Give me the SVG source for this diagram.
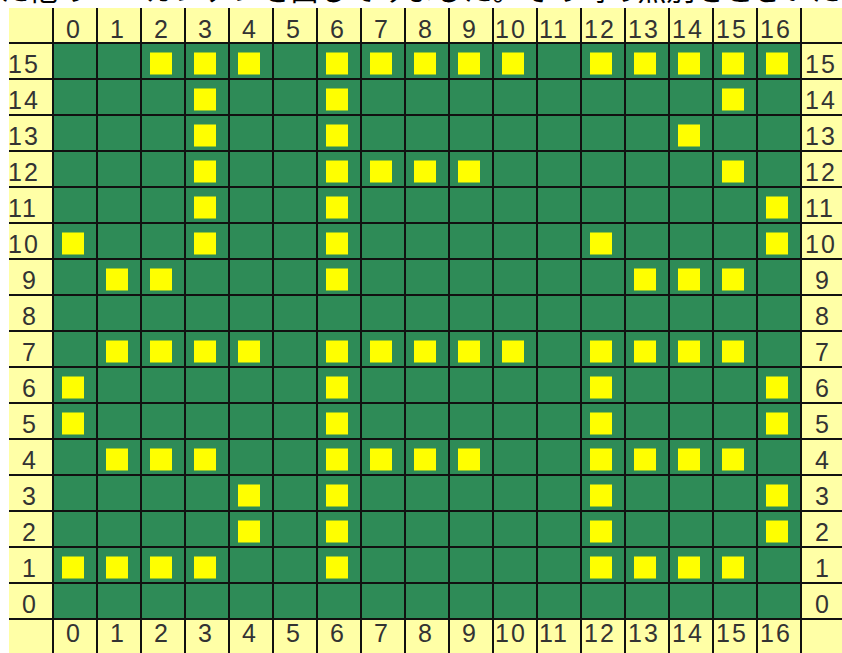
<svg xmlns="http://www.w3.org/2000/svg" width="842" height="653" viewBox="0 0 842 653">
<style>
.bg{fill:#FFFFA6}
.field{fill:#2E8B57}
.m{fill:#FFFF00}
.ln{stroke:#111;stroke-width:2;fill:none}
.t{font-family:"Liberation Sans",Arial,sans-serif;font-size:25px;fill:#333;letter-spacing:2px}
.top{font-family:"Noto Sans CJK JP","Noto Sans CJK SC",sans-serif;font-size:29px;fill:#000}
</style>
<rect width="842" height="653" fill="#ffffff"/>
<text class="top" x="0" y="1">た他のエーカンテシを出してみました。その時の無別をとさいた</text>
<g id="board">
<rect class="bg" x="9" y="8" width="833" height="645"/>
<rect class="field" x="53" y="43" width="748" height="576"/>
</g>
<g id="marks">
<rect class="m" x="150" y="52.5" width="22" height="22"/><rect class="m" x="194" y="52.5" width="22" height="22"/><rect class="m" x="238" y="52.5" width="22" height="22"/>
<rect class="m" x="326" y="52.5" width="22" height="22"/><rect class="m" x="370" y="52.5" width="22" height="22"/><rect class="m" x="414" y="52.5" width="22" height="22"/><rect class="m" x="458" y="52.5" width="22" height="22"/><rect class="m" x="502" y="52.5" width="22" height="22"/>
<rect class="m" x="590" y="52.5" width="22" height="22"/><rect class="m" x="634" y="52.5" width="22" height="22"/><rect class="m" x="678" y="52.5" width="22" height="22"/><rect class="m" x="722" y="52.5" width="22" height="22"/><rect class="m" x="766" y="52.5" width="22" height="22"/>
<rect class="m" x="194" y="88.5" width="22" height="22"/><rect class="m" x="326" y="88.5" width="22" height="22"/><rect class="m" x="722" y="88.5" width="22" height="22"/>
<rect class="m" x="194" y="124.5" width="22" height="22"/><rect class="m" x="326" y="124.5" width="22" height="22"/><rect class="m" x="678" y="124.5" width="22" height="22"/>
<rect class="m" x="194" y="160.5" width="22" height="22"/><rect class="m" x="326" y="160.5" width="22" height="22"/><rect class="m" x="370" y="160.5" width="22" height="22"/><rect class="m" x="414" y="160.5" width="22" height="22"/><rect class="m" x="458" y="160.5" width="22" height="22"/><rect class="m" x="722" y="160.5" width="22" height="22"/>
<rect class="m" x="194" y="196.5" width="22" height="22"/><rect class="m" x="326" y="196.5" width="22" height="22"/><rect class="m" x="766" y="196.5" width="22" height="22"/>
<rect class="m" x="62" y="232.5" width="22" height="22"/><rect class="m" x="194" y="232.5" width="22" height="22"/><rect class="m" x="326" y="232.5" width="22" height="22"/><rect class="m" x="590" y="232.5" width="22" height="22"/><rect class="m" x="766" y="232.5" width="22" height="22"/>
<rect class="m" x="106" y="268.5" width="22" height="22"/><rect class="m" x="150" y="268.5" width="22" height="22"/><rect class="m" x="326" y="268.5" width="22" height="22"/><rect class="m" x="634" y="268.5" width="22" height="22"/><rect class="m" x="678" y="268.5" width="22" height="22"/><rect class="m" x="722" y="268.5" width="22" height="22"/>
<rect class="m" x="106" y="340.5" width="22" height="22"/><rect class="m" x="150" y="340.5" width="22" height="22"/><rect class="m" x="194" y="340.5" width="22" height="22"/><rect class="m" x="238" y="340.5" width="22" height="22"/>
<rect class="m" x="326" y="340.5" width="22" height="22"/><rect class="m" x="370" y="340.5" width="22" height="22"/><rect class="m" x="414" y="340.5" width="22" height="22"/><rect class="m" x="458" y="340.5" width="22" height="22"/><rect class="m" x="502" y="340.5" width="22" height="22"/>
<rect class="m" x="590" y="340.5" width="22" height="22"/><rect class="m" x="634" y="340.5" width="22" height="22"/><rect class="m" x="678" y="340.5" width="22" height="22"/><rect class="m" x="722" y="340.5" width="22" height="22"/>
<rect class="m" x="62" y="376.5" width="22" height="22"/><rect class="m" x="326" y="376.5" width="22" height="22"/><rect class="m" x="590" y="376.5" width="22" height="22"/><rect class="m" x="766" y="376.5" width="22" height="22"/>
<rect class="m" x="62" y="412.5" width="22" height="22"/><rect class="m" x="326" y="412.5" width="22" height="22"/><rect class="m" x="590" y="412.5" width="22" height="22"/><rect class="m" x="766" y="412.5" width="22" height="22"/>
<rect class="m" x="106" y="448.5" width="22" height="22"/><rect class="m" x="150" y="448.5" width="22" height="22"/><rect class="m" x="194" y="448.5" width="22" height="22"/>
<rect class="m" x="326" y="448.5" width="22" height="22"/><rect class="m" x="370" y="448.5" width="22" height="22"/><rect class="m" x="414" y="448.5" width="22" height="22"/><rect class="m" x="458" y="448.5" width="22" height="22"/>
<rect class="m" x="590" y="448.5" width="22" height="22"/><rect class="m" x="634" y="448.5" width="22" height="22"/><rect class="m" x="678" y="448.5" width="22" height="22"/><rect class="m" x="722" y="448.5" width="22" height="22"/>
<rect class="m" x="238" y="484.5" width="22" height="22"/><rect class="m" x="326" y="484.5" width="22" height="22"/><rect class="m" x="590" y="484.5" width="22" height="22"/><rect class="m" x="766" y="484.5" width="22" height="22"/>
<rect class="m" x="238" y="520.5" width="22" height="22"/><rect class="m" x="326" y="520.5" width="22" height="22"/><rect class="m" x="590" y="520.5" width="22" height="22"/><rect class="m" x="766" y="520.5" width="22" height="22"/>
<rect class="m" x="62" y="556.5" width="22" height="22"/><rect class="m" x="106" y="556.5" width="22" height="22"/><rect class="m" x="150" y="556.5" width="22" height="22"/><rect class="m" x="194" y="556.5" width="22" height="22"/>
<rect class="m" x="326" y="556.5" width="22" height="22"/>
<rect class="m" x="590" y="556.5" width="22" height="22"/><rect class="m" x="634" y="556.5" width="22" height="22"/><rect class="m" x="678" y="556.5" width="22" height="22"/><rect class="m" x="722" y="556.5" width="22" height="22"/>
</g>
<g id="gridlines" class="ln">
<path d="M53 8V653M97 8V653M141 8V653M185 8V653M229 8V653M273 8V653M317 8V653M361 8V653M405 8V653M449 8V653M493 8V653M537 8V653M581 8V653M625 8V653M669 8V653M713 8V653M757 8V653M801 8V653"/>
<path d="M9 43H842M9 79H842M9 115H842M9 151H842M9 187H842M9 223H842M9 259H842M9 295H842M9 331H842M9 367H842M9 403H842M9 439H842M9 475H842M9 511H842M9 547H842M9 583H842M9 619H842"/>
</g>
<g id="header" class="t">
<text x="66" y="38">0</text><text x="110" y="38">1</text><text x="154" y="38">2</text><text x="198" y="38">3</text><text x="242" y="38">4</text><text x="286" y="38">5</text><text x="330" y="38">6</text><text x="374" y="38">7</text><text x="418" y="38">8</text><text x="462" y="38">9</text>
<text x="495" y="38">10</text><text x="539" y="38">11</text><text x="584" y="38">12</text><text x="628" y="38">13</text><text x="672" y="38">14</text><text x="716" y="38">15</text><text x="760" y="38">16</text>
</g>
<g id="footer" class="t">
<text x="66" y="642">0</text><text x="110" y="642">1</text><text x="154" y="642">2</text><text x="198" y="642">3</text><text x="242" y="642">4</text><text x="286" y="642">5</text><text x="330" y="642">6</text><text x="374" y="642">7</text><text x="418" y="642">8</text><text x="462" y="642">9</text>
<text x="495" y="642">10</text><text x="539" y="642">11</text><text x="584" y="642">12</text><text x="628" y="642">13</text><text x="672" y="642">14</text><text x="716" y="642">15</text><text x="760" y="642">16</text>
</g>
<g id="left-labels" class="t">
<text x="8" y="73">15</text><text x="8" y="109">14</text><text x="8" y="145">13</text><text x="8" y="181">12</text><text x="8" y="217">11</text><text x="8" y="253">10</text>
<text x="22" y="289">9</text><text x="22" y="325">8</text><text x="22" y="361">7</text><text x="22" y="397">6</text><text x="22" y="433">5</text><text x="22" y="469">4</text><text x="22" y="505">3</text><text x="22" y="541">2</text><text x="22" y="577">1</text><text x="22" y="613">0</text>
</g>
<g id="right-labels" class="t">
<text x="805" y="73">15</text><text x="805" y="109">14</text><text x="805" y="145">13</text><text x="805" y="181">12</text><text x="805" y="217">11</text><text x="805" y="253">10</text>
<text x="815" y="289">9</text><text x="815" y="325">8</text><text x="815" y="361">7</text><text x="815" y="397">6</text><text x="815" y="433">5</text><text x="815" y="469">4</text><text x="815" y="505">3</text><text x="815" y="541">2</text><text x="815" y="577">1</text><text x="815" y="613">0</text>
</g>
</svg>
